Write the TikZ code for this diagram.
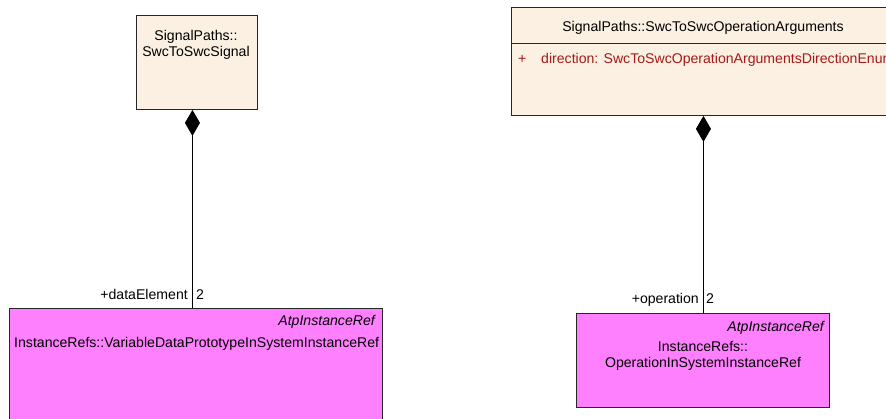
\documentclass[tikz,border=0pt]{standalone}
\usepackage{fontspec}
\setmainfont{Liberation Sans}
\usetikzlibrary{arrows.meta,positioning}
\definecolor{clsfill}{RGB}{251,240,226}
\definecolor{reffill}{RGB}{255,128,255}
\definecolor{attrred}{RGB}{165,25,25}

\begin{document}
\begin{tikzpicture}[x=1pt,y=-1pt,
  every node/.style={font=\fontsize{14.1}{16}\selectfont, inner sep=0pt},
  cls/.style={draw=black!85, line width=0.9pt, fill=clsfill, anchor=north west},
  ref/.style={draw=black!85, line width=0.9pt, fill=reffill, anchor=north west},
  comp/.style={line width=0.9pt, {Diamond[length=26pt,width=15pt,fill=black]}-}]
\path[use as bounding box, fill=white] (0,0) rectangle (886,418);
\clip (0,0) rectangle (886,418);

% SwcToSwcSignal
\node[cls, minimum width=121, minimum height=94] (sig) at (136,15) {};
\node[align=center] (signame) at (196,45) {SignalPaths::\\SwcToSwcSignal};

% SwcToSwcOperationArguments
\node[cls, minimum width=384, minimum height=108] (opargs) at (511,7) {};
\draw[line width=0.9pt, black!85] ([yshift=-36pt]opargs.north west) -- ([yshift=-36pt]opargs.north east);
\node (opname) at (703,28) {SignalPaths::SwcToSwcOperationArguments};
\node[anchor=base west, text=attrred] (attrplus) at (518,63) {+};
\node[anchor=base west, text=attrred] (attrdir) at (541,63) {direction: SwcToSwcOperationArgumentsDirectionEnum};

% Instance refs
\node[ref, minimum width=373, minimum height=130] (dataref) at (9,308) {};
\node[anchor=base east] (datastereo) at (375,325) {\itshape AtpInstanceRef};
\node[anchor=base west] (dataname) at (14,347) {InstanceRefs::VariableDataPrototypeInSystemInstanceRef};

\node[ref, minimum width=253, minimum height=94] (opref) at (576,313) {};
\node[anchor=base east] (opstereo) at (824,331) {\itshape AtpInstanceRef};
\node[align=center] (opname2) at (703,356) {InstanceRefs::\\OperationInSystemInstanceRef};

% Compositions
\draw[comp] ([xshift=-4.5pt]sig.south) -- ([xshift=-4.5pt]sig.south |- dataref.north);
\node[anchor=base east] (dataelem) at (188,299) {+dataElement};
\node[anchor=base west] (datamult) at (196,299) {2};

\draw[comp] (opargs.south) -- (opargs.south |- opref.north);
\node[anchor=base east] (opelem) at (699,303) {+operation};
\node[anchor=base west] (opmult) at (706,303) {2};
\end{tikzpicture}
\end{document}
